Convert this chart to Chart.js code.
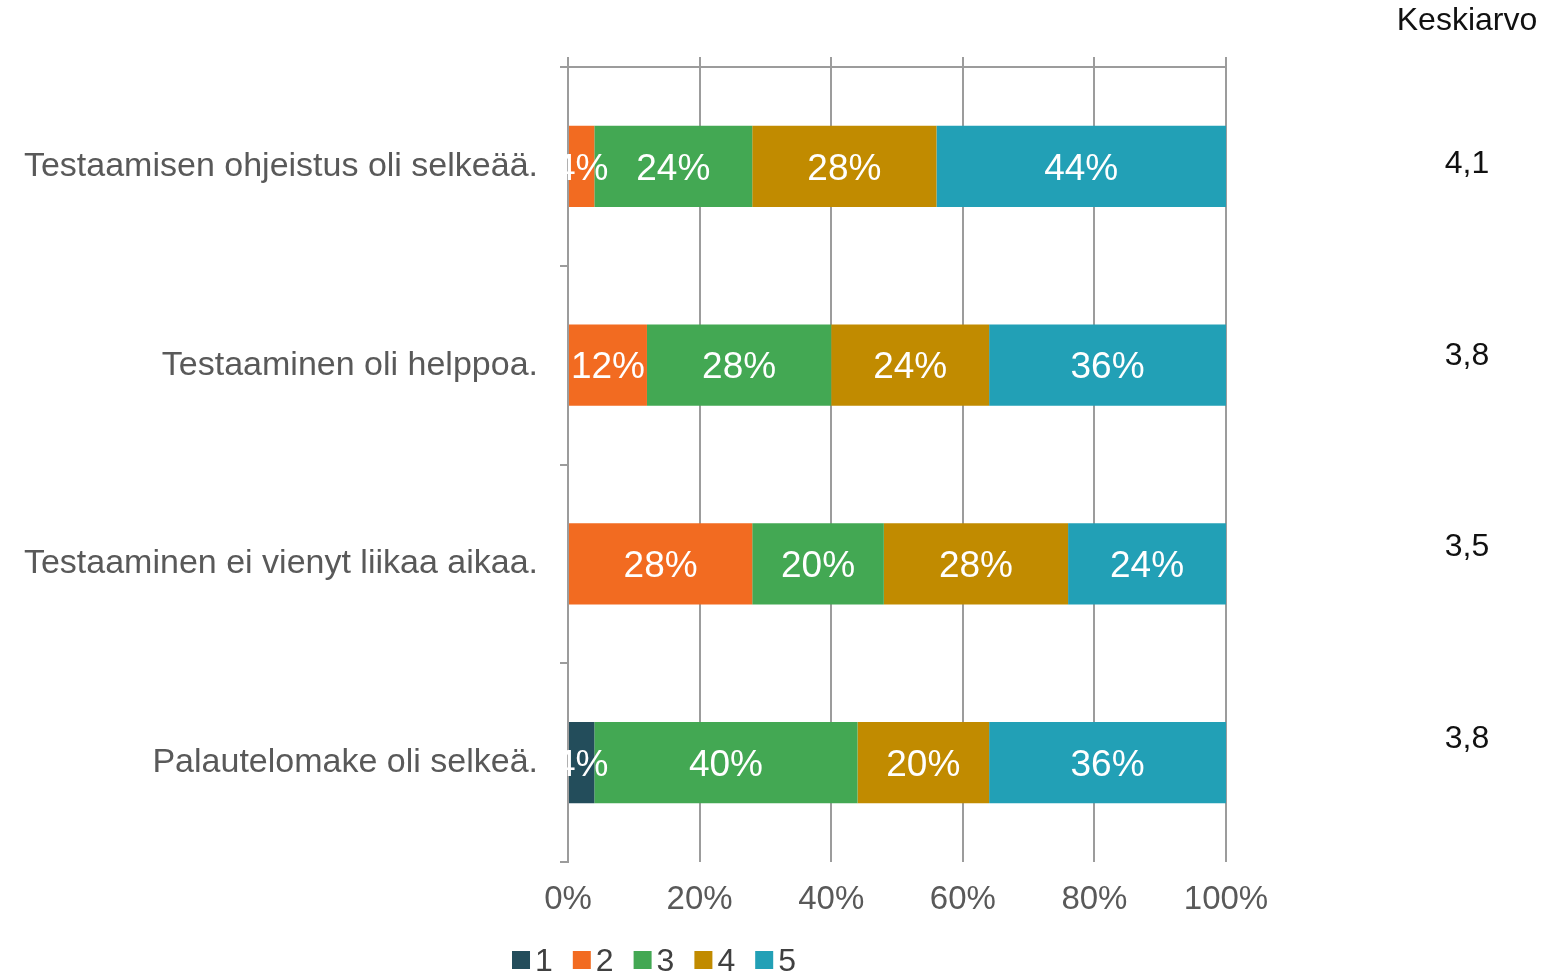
<!DOCTYPE html>
<html>
<head>
<meta charset="utf-8">
<script src="https://cdn.jsdelivr.net/npm/chart.js@4.4.0/dist/chart.umd.min.js"></script>
<style>
  html, body { margin: 0; padding: 0; background: #fff; }
  #wrap { position: relative; width: 1560px; height: 974px; }
</style>
</head>
<body>
<div id="wrap"><canvas id="likertChart" width="1560" height="974"></canvas></div>
<script>
// Data
const categories = [
  "Testaamisen ohjeistus oli selkeää.",
  "Testaaminen oli helppoa.",
  "Testaaminen ei vienyt liikaa aikaa.",
  "Palautelomake oli selkeä."
]
const seriesLabels = ["1", "2", "3", "4", "5"]
const series1 = [0, 0, 0, 4]
const series2 = [4, 12, 28, 0]
const series3 = [24, 28, 20, 40]
const series4 = [28, 24, 28, 20]
const series5 = [44, 36, 24, 36]
const keskiarvo = ["4,1", "3,8", "3,5", "3,8"]
const xTickValues = [0, 20, 40, 60, 80, 100]

const seriesColors = ["#234D5B", "#F26B21", "#43A853", "#C18B00", "#22A0B6"]
const gridColor = "#9c9c9c"
const textGray = "#595959"
const fontFamily = "'Liberation Sans', Arial, sans-serif"

// Centered white percentage labels inside the bar segments
const segmentLabels = {
  id: "segmentLabels",
  afterDatasetsDraw(chart) {
    const ctx = chart.ctx
    ctx.save()
    ctx.font = "37px " + fontFamily
    ctx.fillStyle = "#ffffff"
    ctx.textAlign = "center"
    ctx.textBaseline = "middle"
    chart.data.datasets.forEach((ds, di) => {
      const meta = chart.getDatasetMeta(di)
      meta.data.forEach((bar, i) => {
        const v = ds.data[i]
        if (!v) return
        const c = bar.getCenterPoint()
        ctx.fillText(v + "%", c.x, c.y + 3)
      })
    })
    ctx.restore()
  },
}

// Top frame line, tick stubs above the plot, "Keskiarvo" column and legend
const extras = {
  id: "extras",
  afterDraw(chart) {
    const ctx = chart.ctx
    const area = chart.chartArea
    const xScale = chart.scales.x
    ctx.save()
    ctx.strokeStyle = gridColor
    ctx.lineWidth = 2
    ctx.beginPath()
    ctx.moveTo(area.left - 8, area.top)
    ctx.lineTo(area.right, area.top)
    xTickValues.forEach((v) => {
      const px = Math.round(xScale.getPixelForValue(v))
      ctx.moveTo(px, area.top - 10)
      ctx.lineTo(px, area.top)
    })
    ctx.stroke()

    // Keskiarvo column
    ctx.fillStyle = "#111111"
    ctx.textAlign = "center"
    ctx.textBaseline = "middle"
    ctx.font = "32px " + fontFamily
    ctx.fillText("Keskiarvo", 1467, area.top - 46)
    keskiarvo.forEach((val, i) => {
      ctx.fillText(val, 1467, area.top + 97 + i * 191.7)
    })

    // Legend
    ctx.font = "32px " + fontFamily
    ctx.textAlign = "left"
    const box = 18
    const gap = 5
    const spacing = 20
    const widths = chart.data.datasets.map((ds) => box + gap + ctx.measureText(ds.label).width)
    const total = widths.reduce((a, b) => a + b, 0) + spacing * (widths.length - 1)
    let lx = 654 - total / 2
    const ly = area.bottom + 98
    chart.data.datasets.forEach((ds, i) => {
      ctx.fillStyle = ds.backgroundColor
      ctx.fillRect(lx, ly - box / 2, box, box)
      ctx.fillStyle = "#404040"
      ctx.fillText(ds.label, lx + box + gap, ly + 2)
      lx += widths[i] + spacing
    })
    ctx.restore()
  },
}

const datasetValues = [series1, series2, series3, series4, series5]

const chart = new Chart(document.getElementById("likertChart"), {
  type: "bar",
  data: {
    labels: categories,
    datasets: seriesLabels.map((label, i) => ({
      label: label,
      data: datasetValues[i],
      backgroundColor: seriesColors[i],
      borderWidth: 0,
      categoryPercentage: 1,
      barPercentage: 0.41,
    })),
  },
  options: {
    responsive: false,
    animation: false,
    indexAxis: "y",
    layout: {
      padding: { left: 0, right: 334, top: 67, bottom: 54 },
    },
    plugins: {
      tooltip: { enabled: false },
      legend: { display: false },
    },
    scales: {
      x: {
        stacked: true,
        min: 0,
        max: 100,
        afterBuildTicks: (scale) => {
          scale.ticks = xTickValues.map((v) => ({ value: v }))
        },
        afterFit: (scale) => {
          scale.height = 58
        },
        ticks: {
          callback: (v) => v + "%",
          color: textGray,
          padding: 18,
          font: { family: fontFamily, size: 33 },
        },
        grid: {
          color: gridColor,
          lineWidth: 2,
          drawTicks: false,
        },
        border: { display: false },
      },
      y: {
        stacked: true,
        afterFit: (scale) => {
          scale.width = 568
        },
        ticks: {
          color: textGray,
          padding: 22,
          font: { family: fontFamily, size: 34 },
        },
        grid: {
          offset: true,
          drawOnChartArea: false,
          tickLength: 8,
          color: gridColor,
          lineWidth: 2,
        },
        border: { color: gridColor, width: 2 },
      },
    },
  },
  plugins: [segmentLabels, extras],
})
</script>
</body>
</html>
